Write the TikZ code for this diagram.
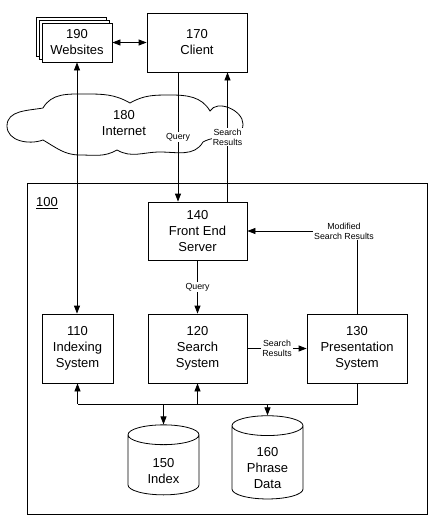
\documentclass[tikz,border=0pt]{standalone}
\usepackage{fontspec}
\setmainfont{Liberation Sans}
\usepackage{tikz}
\usetikzlibrary{arrows.meta,positioning,calc,shapes.geometric,shadows}

\newcommand{\boxfont}{\fontsize{13}{16}\selectfont}
\newcommand{\lblfont}{\fontsize{8.8}{10}\selectfont}
\newcommand{\toppad}{\rule{0pt}{21pt}}

\begin{document}
\begin{tikzpicture}[
  x=1pt,y=-1pt,
  sbox/.style={rectangle,draw,line width=0.8pt,fill=white,inner sep=0pt,align=center,font=\boxfont},
  store/.style={cylinder,shape border rotate=90,aspect=0.33,draw,line width=0.8pt,inner sep=0pt,text width=60pt,minimum width=71pt,minimum height=70pt,align=center,font=\boxfont},
  lbl/.style={fill=white,inner sep=1pt,align=center,font=\lblfont},
  arr/.style={-{Triangle[length=8pt,width=6pt]},line width=0.8pt},
  darr/.style={{Triangle[length=8pt,width=6pt]}-{Triangle[length=8pt,width=6pt]},line width=0.8pt}
]
\useasboundingbox (0,0) rectangle (434,522);

% outer system
\draw[line width=0.8pt] (27,183) rectangle (427,514);
\node[font=\boxfont] (sysno) at (47,203) {\underline{100}};

% cloud
\draw[line width=0.8pt] (43,108) to[out=60,in=180] (85,94) to[out=0,in=150] (130,103)
  to[out=30,in=180] (170,95) to[out=0,in=120] (210,111)
  to[out=60,in=90] (243,124) to[out=-90,in=30] (203,142)
  to[out=-120,in=0] (160,152) to[out=180,in=-30] (117,150)
  to[out=-150,in=0] (80,155) to[out=180,in=-30] (43,140)
  to[out=-160,in=-90] (7,126) to[out=90,in=-170] cycle;
\node[font=\boxfont,align=center] (inet) at (124,123) {180\\Internet};

% boxes
\node[sbox,minimum width=70pt,minimum height=39pt,
  double copy shadow={shadow xshift=-2.6pt,shadow yshift=2.6pt,line width=0.8pt}] (websites) at (77,42.5) {190\\Websites};
\node[sbox,minimum width=100pt,minimum height=59pt] (client) at (197,42.5) {170\\Client};
\node[sbox,minimum width=99pt,minimum height=58pt] (fes) at (197.5,231) {140\\Front End\\Server};
\node[sbox,minimum width=71pt,minimum height=69pt] (indexing) at (77.5,348.5) {110\\Indexing\\System};
\node[sbox,minimum width=99pt,minimum height=69pt] (search) at (197.5,348.5) {120\\Search\\System};
\node[sbox,minimum width=100pt,minimum height=69pt] (present) at (357,348.5) {130\\Presentation\\System};
\node[store] (index) at (163.5,465) {\toppad 150\\Index};
\node[store] (phrase) at (267.5,462.5) {\toppad 160\\Phrase\\Data};
\coordinate (bus) at (0,404);

% connectors
\draw[darr] (websites) -- (client);
\draw[darr] (websites.south) -- (websites.south |- indexing.north);
\draw[arr] ([xshift=-19pt]client.south) -- node[lbl] {Query} ([xshift=-19pt]client.south |- fes.north);
\draw[arr] ([xshift=30pt]fes.north) -- node[lbl] {Search\\Results} ([xshift=30pt]fes.north |- client.south);
\draw[arr] (fes) -- node[lbl] {Query} (search);
\draw[arr] (search) -- node[lbl] {Search\\Results} (present);
\draw[arr] (present.north) |- node[lbl,pos=0.5,xshift=-13pt] {Modified\\Search Results} (fes.east);
\draw[line width=0.8pt] (present.south) -- (present.south |- bus) -- (indexing.south |- bus);
\draw[arr] (indexing.south |- bus) -- (indexing.south);
\draw[arr] (search.south |- bus) -- (search.south);
\draw[arr] (index.north |- bus) -- (index.north);
\draw[arr] (phrase.north |- bus) -- (phrase.north);
\end{tikzpicture}
\end{document}
